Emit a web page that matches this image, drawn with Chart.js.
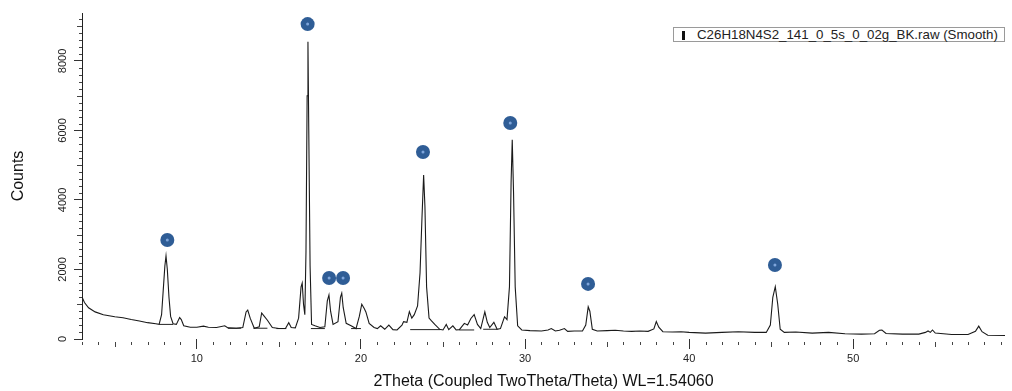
<!DOCTYPE html>
<html lang="en">
<head>
    <meta charset="UTF-8">
    <title>XRD Pattern</title>
    <script src="https://cdn.jsdelivr.net/npm/chart.js@4.4.0/dist/chart.umd.min.js"></script>
    <style>
        body {
            margin: 0;
            background: #fff;
        }
        #wrap {
            position: relative;
            width: 1012px;
            height: 391px;
        }
        #legendBox {
            position: absolute;
            left: 673px;
            top: 27px;
            width: 330px;
            height: 13px;
            border: 1px solid #9a9a9a;
            background: #fff;
            font-family: "Liberation Sans", Arial, sans-serif;
            font-size: 13.3px;
            line-height: 13px;
            color: #222;
            white-space: nowrap;
        }
        #legendBox .swatch {
            display: inline-block;
            width: 3px;
            height: 9px;
            background: #111;
            margin: 0 12px 0 8px;
            vertical-align: -1px;
        }
    </style>
</head>
<body>
    <div id="wrap">
        <canvas id="xrdChart" width="1012" height="391"></canvas>
        <div id="legendBox"><span class="swatch"></span>C26H18N4S2_141_0_5s_0_02g_BK.raw (Smooth)</div>
    </div>

    <script>
        // Smoothed scan: 2theta (deg) and intensity (counts)
        const twoTheta = [
            3.0, 3.15, 3.4, 3.8, 4.3, 5.0, 5.5, 6.0, 6.5, 7.0, 7.5, 7.7,
            7.85, 7.95, 8.05, 8.12, 8.2, 8.3, 8.4, 8.55, 8.75, 8.95, 9.05, 9.2,
            9.6, 10.0, 10.4, 10.7, 11.2, 11.7, 11.9, 12.4, 12.8, 13.0, 13.1, 13.25,
            13.5, 13.8, 13.95, 14.1, 14.3, 14.6, 15.0, 15.4, 15.6, 15.75, 16.0, 16.2,
            16.35, 16.42, 16.5, 16.58, 16.65, 16.72, 16.77, 16.82, 16.9, 16.99, 17.2, 17.5,
            17.8, 17.95, 18.05, 18.15, 18.3, 18.6, 18.75, 18.83, 18.92, 19.1, 19.4, 19.7,
            19.9, 20.05, 20.2, 20.3, 20.5, 20.8, 21.0, 21.2, 21.45, 21.7, 21.95, 22.2,
            22.5, 22.6, 22.8, 22.95, 23.1, 23.25, 23.45, 23.6, 23.72, 23.82, 23.9, 24.0,
            24.15, 24.3, 24.5, 24.8, 25.0, 25.2, 25.35, 25.6, 25.8, 26.0, 26.3, 26.5,
            26.7, 26.9, 27.1, 27.3, 27.55, 27.7, 27.85, 28.1, 28.3, 28.5, 28.75, 28.9,
            29.05, 29.15, 29.22, 29.3, 29.4, 29.55, 29.8, 30.3, 31.0, 31.4, 31.6, 31.85,
            32.1, 32.4, 32.6, 33.0, 33.5, 33.7, 33.85, 33.95, 34.1, 34.4, 35.0, 35.5,
            36.0, 36.5, 37.0, 37.5, 37.85, 38.0, 38.15, 38.4, 39.0, 39.5, 40.0, 41.0,
            42.0, 43.0, 44.0, 44.7, 44.95, 45.1, 45.25, 45.4, 45.55, 45.8, 46.5, 47.5,
            48.5, 49.5, 50.5, 51.3, 51.6, 51.75, 52.0, 53.0, 54.0, 54.4, 54.56, 54.7,
            54.83, 55.0, 56.0, 57.0, 57.45, 57.65, 57.85, 58.2, 59.25
        ];
        const counts = [
            1210, 1050, 900, 780, 700, 640, 610, 560, 520, 470, 440, 420,
            700, 1400, 2100, 2390, 2000, 1200, 650, 440, 420, 620, 560, 380,
            340, 340, 370, 340, 330, 380, 320, 310, 330, 780, 830, 600,
            310, 350, 750, 660, 540, 330, 300, 300, 470, 330, 320, 600,
            1500, 1610, 1000, 700, 2500, 7000, 8550, 6000, 2100, 420, 380, 330,
            350, 1100, 1270, 800, 420, 500, 1200, 1320, 900, 450, 380, 300,
            650, 1000, 880, 780, 450, 330, 300, 380, 280, 400, 270, 260,
            400, 500, 480, 790, 600, 700, 950, 1900, 3500, 4720, 3800, 1500,
            600, 520, 420, 280, 260, 420, 270, 380, 260, 270, 450, 400,
            590, 700, 420, 300, 780, 480, 330, 480, 280, 300, 640, 560,
            1500, 4500, 5730, 4200, 1500, 380, 260, 240, 230, 260, 300, 230,
            250, 300, 220, 230, 230, 400, 925, 800, 280, 230, 240, 250,
            230, 220, 230, 220, 290, 500, 340, 210, 200, 210, 190, 170,
            190, 210, 190, 190, 400, 1200, 1505, 1000, 280, 190, 200, 170,
            190, 150, 140, 150, 250, 260, 160, 140, 140, 190, 230, 190,
            260, 170, 130, 130, 220, 370, 210, 110, 100
        ];

        // Straight background segments under the fitted reflections
        const bgStart = [7.7, 11.9, 13.45, 14.85, 16.95, 19.4, 23.0, 26.0, 27.45];
        const bgEnd   = [8.55, 12.7, 14.3, 15.45, 17.8, 20.0, 24.85, 26.9, 28.3];
        const bgLevel = [420, 310, 310, 300, 300, 300, 270, 260, 280];

        // Marked reflections
        const markerTheta  = [8.2, 16.75, 18.06, 18.91, 23.78, 29.1, 33.84, 45.23];
        const markerCounts = [2850, 9060, 1755, 1755, 5380, 6215, 1585, 2130];

        const xTickValues = [10, 20, 30, 40, 50];
        const yTickValues = [0, 2000, 4000, 6000, 8000];

        const FONT = '"Liberation Sans", Arial, sans-serif';

        const scanPoints = twoTheta.map((t, i) => ({ x: t, y: counts[i] }));
        const bgPoints = [];
        bgStart.forEach((s, i) => {
            bgPoints.push({ x: s, y: bgLevel[i] }, { x: bgEnd[i], y: bgLevel[i] }, { x: bgEnd[i], y: null });
        });
        const markerPoints = markerTheta.map((t, i) => ({ x: t, y: markerCounts[i] }));

        // small intermediate ticks on both axes
        const minorTicks = {
            id: 'minorTicks',
            afterDraw(chart) {
                const { ctx, chartArea, scales: { x, y } } = chart;
                ctx.save();
                ctx.strokeStyle = '#444';
                ctx.lineWidth = 1;
                ctx.beginPath();
                for (let v = 3; v <= 59; v++) {
                    if (v % 10 === 0) continue;
                    const px = Math.round(x.getPixelForValue(v)) + 0.5;
                    const len = v % 5 === 0 ? 5 : 3;
                    ctx.moveTo(px, chartArea.bottom + 3);
                    ctx.lineTo(px, chartArea.bottom + 3 + len);
                }
                for (let v = 200; v <= 9300; v += 200) {
                    if (v % 2000 === 0) continue;
                    const py = Math.round(y.getPixelForValue(v)) + 0.5;
                    const len = v % 1000 === 0 ? 5 : 3;
                    ctx.moveTo(chartArea.left - len, py);
                    ctx.lineTo(chartArea.left, py);
                }
                ctx.stroke();
                ctx.restore();
            }
        };

        new Chart(document.getElementById('xrdChart'), {
            type: 'line',
            data: {
                datasets: [
                    {
                        type: 'scatter',
                        data: markerPoints,
                        pointRadius: 1.5,
                        pointBackgroundColor: '#7fa6dc',
                        pointBorderWidth: 0,
                        order: 0
                    },
                    {
                        type: 'scatter',
                        data: markerPoints,
                        pointRadius: 7,
                        pointBackgroundColor: '#2f5d96',
                        pointBorderWidth: 0,
                        order: 1
                    },
                    {
                        data: bgPoints,
                        borderColor: '#222',
                        borderWidth: 1,
                        pointRadius: 0,
                        spanGaps: false,
                        order: 3
                    },
                    {
                        data: scanPoints,
                        borderColor: '#1a1a1a',
                        borderWidth: 1.1,
                        pointRadius: 0,
                        tension: 0,
                        order: 2
                    }
                ]
            },
            options: {
                responsive: false,
                animation: false,
                devicePixelRatio: 1,
                layout: { padding: { top: 13, right: 1, left: 0, bottom: 0 } },
                plugins: {
                    legend: { display: false },
                    tooltip: { enabled: false }
                },
                scales: {
                    x: {
                        type: 'linear',
                        min: 3,
                        max: 59.25,
                        afterBuildTicks: s => { s.ticks = xTickValues.map(v => ({ value: v })); },
                        afterFit: s => { s.height = 52; },
                        border: { display: false },
                        grid: { drawOnChartArea: false, tickLength: 10, tickColor: '#333' },
                        ticks: {
                            padding: 3,
                            maxRotation: 0,
                            autoSkip: false,
                            color: '#222',
                            font: { family: FONT, size: 11 },
                            callback: v => String(v)
                        },
                        title: {
                            display: true,
                            text: '2Theta (Coupled TwoTheta/Theta) WL=1.54060',
                            color: '#111',
                            font: { family: FONT, size: 16 },
                            padding: { top: 0, bottom: 0 }
                        }
                    },
                    y: {
                        min: 0,
                        max: 9380,
                        afterBuildTicks: s => { s.ticks = yTickValues.map(v => ({ value: v })); },
                        afterFit: s => { s.width = 82; },
                        border: { display: true, color: '#222', width: 1 },
                        grid: { drawOnChartArea: false, tickLength: 8, tickColor: '#333' },
                        ticks: {
                            minRotation: 90,
                            maxRotation: 90,
                            crossAlign: 'center',
                            padding: -1,
                            autoSkip: false,
                            color: '#222',
                            font: { family: FONT, size: 11 },
                            callback: v => String(v)
                        },
                        title: {
                            display: true,
                            text: 'Counts',
                            color: '#111',
                            font: { family: FONT, size: 16 },
                            padding: { top: 9, bottom: 0 }
                        }
                    }
                }
            },
            plugins: [minorTicks]
        });
    </script>
</body>
</html>
